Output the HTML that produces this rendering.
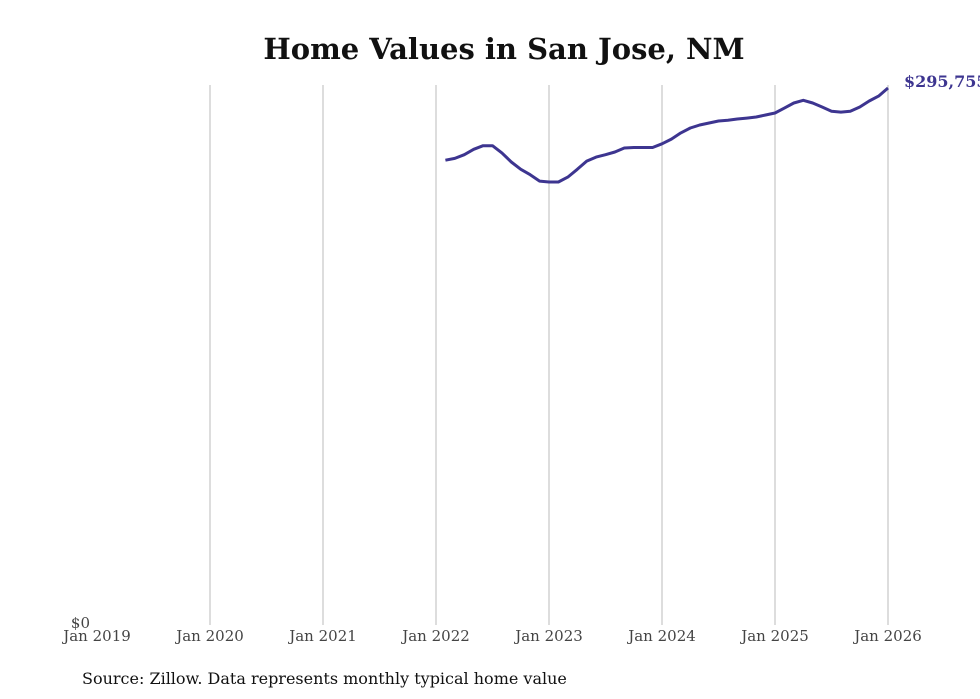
<!DOCTYPE html>
<html><head><meta charset="utf-8"><style>
html,body{margin:0;padding:0;background:#fff;}
svg{display:block;font-family:"DejaVu Serif","Liberation Serif",serif;}
</style></head><body>
<svg id="chart" width="980" height="699">
<text x="504" y="59" text-anchor="middle" font-size="29" font-weight="bold" fill="#111">Home Values in San Jose, NM</text>
<g id="grid"></g>
<g id="xticks"></g>
<text x="90" y="628" text-anchor="end" font-size="15" fill="#444">$0</text>
<path id="line" fill="none" stroke="#3d3590" stroke-width="3" stroke-linejoin="round"></path>
<text id="endlabel" font-size="16" font-weight="bold" fill="#3d3590"></text>
<text x="82" y="684" font-size="16" fill="#111">Source: Zillow. Data represents monthly typical home value</text>
</svg>
<script>
const tickLabels=["Jan 2019","Jan 2020","Jan 2021","Jan 2022","Jan 2023","Jan 2024","Jan 2025","Jan 2026"];
const startMonth=37; // months after Jan 2019 (Feb 2022)
const values=[256000,257000,259000,262000,264000,264000,260000,255000,251000,248000,244500,244000,
244000,246700,251000,255500,257700,259000,260500,262700,263000,263000,263000,265000,
267600,271000,273700,275400,276500,277600,278000,278700,279200,279800,280900,282000,
284700,287500,289000,287500,285300,283000,282500,283000,285300,288600,291300,295755];
const ns="http://www.w3.org/2000/svg";
const x=m=>97+m*(791/84);
const y=v=>625-v/295755*537;
const grid=document.getElementById('grid'),xt=document.getElementById('xticks');
tickLabels.forEach((t,i)=>{
  const gx=x(i*12);
  if(i>0){const l=document.createElementNS(ns,'line');
    
    
    l.setAttribute('x1',gx);l.setAttribute('x2',gx);l.setAttribute('y1',85);l.setAttribute('y2',625);
    l.setAttribute('stroke','#bbb');l.setAttribute('stroke-width','1');grid.appendChild(l);}
  const tx=document.createElementNS(ns,'text');
  
  
  tx.setAttribute('x',gx);tx.setAttribute('y',641);tx.setAttribute('text-anchor','middle');
  tx.setAttribute('font-size','15');tx.setAttribute('fill','#444');tx.textContent=t;xt.appendChild(tx);
});
let d='';values.forEach((v,i)=>{d+=(i?'L':'M')+x(startMonth+i).toFixed(1)+','+y(v).toFixed(1);});
document.getElementById('line').setAttribute('d',d);
const last=values[values.length-1],el=document.getElementById('endlabel');
el.setAttribute('x',x(startMonth+values.length-1)+16);el.setAttribute('y',y(last)-1);
el.textContent='$'+last.toLocaleString('en-US');
</script>
</body></html>
